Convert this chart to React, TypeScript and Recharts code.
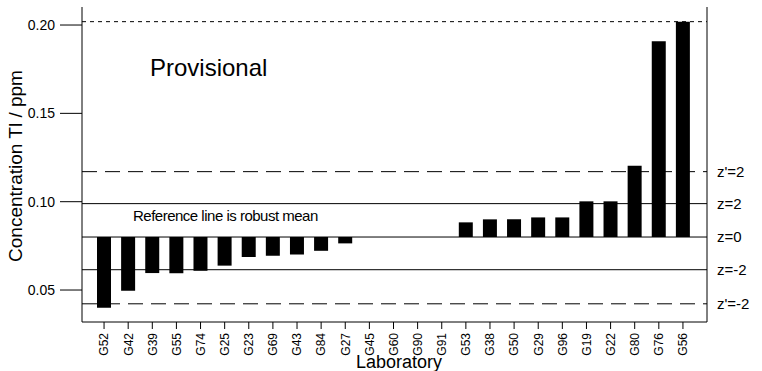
import React from 'react'
import { BarChart, Bar, XAxis, YAxis, ReferenceLine } from 'recharts'

const labs = ['G52', 'G42', 'G39', 'G55', 'G74', 'G25', 'G23', 'G69', 'G43', 'G84', 'G27', 'G45', 'G60', 'G90', 'G91', 'G53', 'G38', 'G50', 'G29', 'G96', 'G19', 'G22', 'G80', 'G76', 'G56']
const results = [0.0400, 0.0496, 0.0596, 0.0595, 0.0609, 0.0638, 0.0687, 0.0694, 0.0701, 0.0722, 0.0764, 0.0800, 0.0800, 0.0800, 0.0800, 0.0883, 0.0900, 0.0900, 0.0911, 0.0911, 0.1002, 0.1002, 0.1204, 0.1908, 0.2019]

const robustMean = 0.080
const zValues = [0.0422, 0.0615, 0.080, 0.0989, 0.117]
const zLabels = ["z'=-2", 'z=-2', 'z=0', 'z=2', "z'=2"]
const zDashed = [true, false, false, false, true]
const upperLimit = 0.2019

const yTicks = [0.05, 0.1, 0.15, 0.2]
const yDomain = [0.0319, 0.2102]

const data = labs.map((lab, i) => ({
    lab,
    range: [Math.min(results[i], robustMean), Math.max(results[i], robustMean)],
}))

const font = '"Liberation Sans", Arial, Helvetica, sans-serif'

function LabTick(props: any) {
    const { x, y, payload } = props
    return (
        <g transform={`translate(${x},${y})`}>
            <text transform="rotate(-90)" textAnchor="end" dy="0.36em" x={-2} fontSize={12} fill="#000" fontFamily={font}>
                {payload.value}
            </text>
        </g>
    )
}

export default function App() {
    return (
        <div style={{ position: 'absolute', left: 0, top: 0, width: 762, height: 371, background: '#fff', fontFamily: font, overflow: 'hidden' }}>
            <BarChart width={762} height={371} data={data} margin={{ top: 7, right: 0, bottom: 0, left: 0 }} barCategoryGap={0}>
                <XAxis
                    dataKey="lab"
                    interval={0}
                    height={49}
                    padding={{ left: 10, right: 12 }}
                    tickSize={7}
                    tickLine={{ stroke: '#000' }}
                    axisLine={{ stroke: '#000' }}
                    tick={<LabTick />}
                />
                <XAxis xAxisId="top" dataKey="lab" orientation="top" height={0} tick={false} tickLine={false} axisLine={{ stroke: '#000' }} />
                <YAxis
                    type="number"
                    domain={yDomain}
                    allowDataOverflow
                    ticks={yTicks}
                    width={82}
                    tickSize={22}
                    tickMargin={5}
                    tickFormatter={(v: number) => v.toFixed(2)}
                    tick={{ fill: '#000', fontSize: 14, fontFamily: font }}
                    tickLine={{ stroke: '#000' }}
                    axisLine={{ stroke: '#000' }}
                />
                <YAxis
                    yAxisId="z"
                    orientation="right"
                    type="number"
                    domain={yDomain}
                    allowDataOverflow
                    ticks={zValues}
                    width={55}
                    tickSize={8}
                    tickMargin={2}
                    tickLine={false}
                    tickFormatter={(v: number) => zLabels[zValues.indexOf(v)]}
                    tick={{ fill: '#000', fontSize: 15, fontFamily: font, textAnchor: 'start' }}
                    axisLine={{ stroke: '#000' }}
                />
                <ReferenceLine y={upperLimit} stroke="#000" strokeDasharray="4 4" />
                {zValues.map((v, i) => (
                    <ReferenceLine key={zLabels[i]} y={v} stroke="#000" strokeDasharray={zDashed[i] ? '15 8' : undefined} />
                ))}
                <Bar dataKey="range" fill="#000" barSize={14} isAnimationActive={false} />
            </BarChart>

            <div style={{ position: 'absolute', left: 15, top: 166, transform: 'translate(-50%, -50%) rotate(-90deg)', whiteSpace: 'nowrap', fontSize: 19, lineHeight: 1 }}>
                Concentration Tl / ppm
            </div>
            <div style={{ position: 'absolute', left: 399, top: 353, transform: 'translateX(-50%)', whiteSpace: 'nowrap', fontSize: 18, lineHeight: 1 }}>
                Laboratory
            </div>
            <div style={{ position: 'absolute', left: 150, top: 56, whiteSpace: 'nowrap', fontSize: 24, lineHeight: 1 }}>
                Provisional
            </div>
            <div style={{ position: 'absolute', left: 133, top: 208, whiteSpace: 'nowrap', fontSize: 15, lineHeight: 1, letterSpacing: -0.5 }}>
                Reference line is robust mean
            </div>
        </div>
    )
}
